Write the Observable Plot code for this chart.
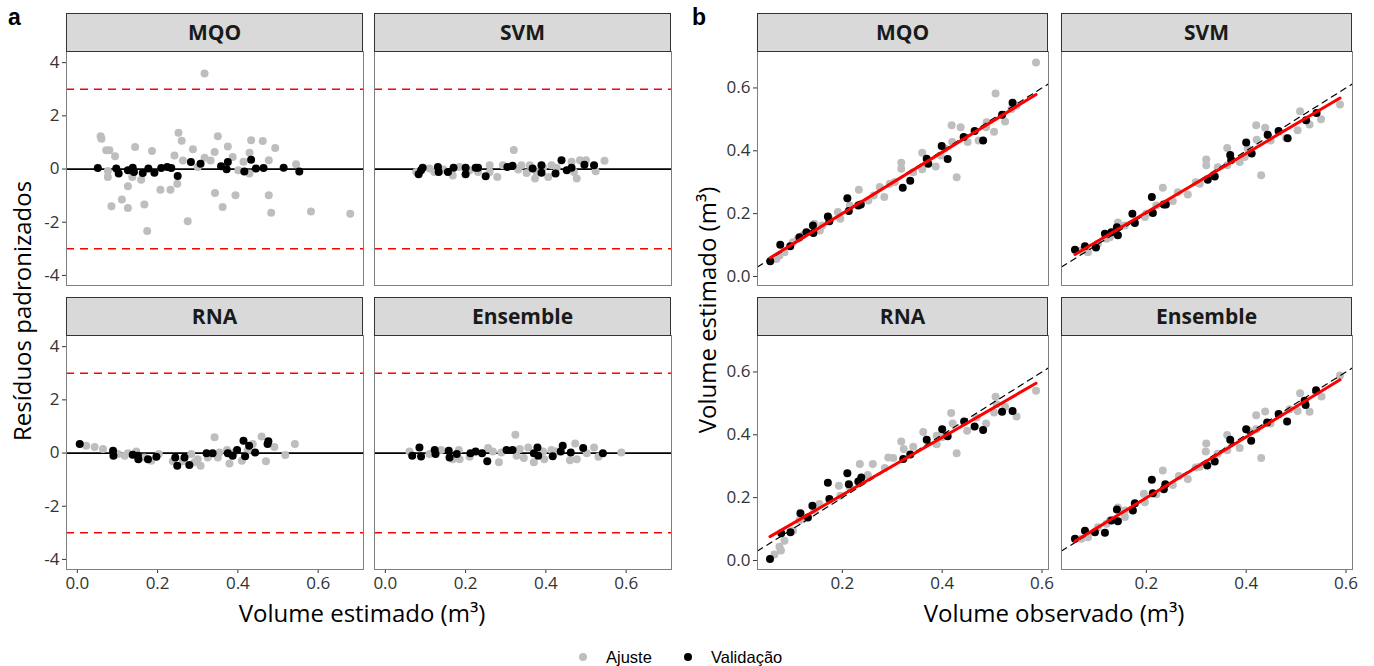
<!DOCTYPE html>
<html><head><meta charset="utf-8">
<script src="https://cdn.jsdelivr.net/npm/d3@7"></script>
<script src="https://cdn.jsdelivr.net/npm/@observablehq/plot@0.6"></script>
<style>
body{margin:0;background:#fff;}
#root{position:relative;width:1374px;height:666px;overflow:hidden;font-family:"Open Sans",sans-serif;color:#000;}
.abs{position:absolute;white-space:nowrap;}
.facet{position:absolute;}
</style></head><body><div id="root"></div>
<script>
// ---------- categories & ticks ----------
const models = ["MQO", "SVM", "RNA", "Ensemble"];
const groups = ["Ajuste", "Validação"];
const resTicks = [-4, -2, 0, 2, 4];
const volTicksA = [0, 0.2, 0.4, 0.6];
const obsTicksB = [0.2, 0.4, 0.6];
const estTicksB = [0, 0.2, 0.4, 0.6];
const refLimits = [-3, 3];
const zeroLine = [0];

// ---------- panel a: [volume estimado, resíduo padronizado] ----------
const resAjusteMQO = [[0.317,3.59],[0.058,1.23],[0.06,1.14],[0.072,0.71],[0.08,0.71],[0.094,0.48],[0.144,0.83],[0.186,0.68],[0.252,1.36],[0.26,1.06],[0.288,0.74],[0.35,1.23],[0.375,0.85],[0.342,0.64],[0.387,0.45],[0.433,1.08],[0.462,1.05],[0.493,0.79],[0.429,0.61],[0.477,0.33],[0.414,0.27],[0.545,0.18],[0.317,0.42],[0.332,0.32],[0.263,0.32],[0.242,0.51],[0.3,0.08],[0.076,-0.30],[0.126,-0.65],[0.137,-0.30],[0.159,-0.40],[0.085,-1.4],[0.111,-1.15],[0.126,-1.47],[0.167,-1.33],[0.174,-2.33],[0.207,-0.78],[0.232,-0.78],[0.249,-0.55],[0.275,-1.96],[0.343,-0.9],[0.362,-1.43],[0.394,-0.99],[0.477,-0.99],[0.483,-1.64],[0.582,-1.6],[0.68,-1.68],[0.401,-0.05],[0.429,-0.17],[0.076,-0.07]];
const resValidMQO = [[0.051,0.04],[0.097,0.02],[0.103,-0.17],[0.126,-0.05],[0.138,0.05],[0.141,-0.11],[0.163,-0.15],[0.177,0.02],[0.192,-0.14],[0.209,0.04],[0.224,0.08],[0.234,0.04],[0.25,-0.26],[0.283,0.26],[0.307,0.2],[0.358,0.1],[0.375,0.26],[0.372,-0.01],[0.416,-0.09],[0.433,0.35],[0.445,0.02],[0.464,0.04],[0.514,0.05],[0.553,-0.09]];
const resAjusteSVM = [[0.32,0.72],[0.077,-0.11],[0.11,0.02],[0.145,-0.02],[0.168,-0.24],[0.185,0.08],[0.231,-0.11],[0.26,0.14],[0.279,-0.3],[0.293,0.14],[0.331,-0.02],[0.352,-0.15],[0.36,0.14],[0.373,-0.36],[0.406,-0.3],[0.414,0.14],[0.464,0.27],[0.477,-0.36],[0.485,0.33],[0.5,0.33],[0.524,-0.08],[0.546,0.31],[0.339,0.14],[0.377,-0.11],[0.47,-0.11],[0.427,0.05],[0.26,-0.11],[0.21,-0.05],[0.393,0.05],[0.122,-0.11]];
const resValidSVM = [[0.083,-0.2],[0.089,-0.05],[0.093,0.05],[0.131,0.08],[0.133,-0.11],[0.156,-0.11],[0.17,0.05],[0.2,0.05],[0.2,-0.2],[0.225,0.05],[0.231,0.05],[0.25,-0.27],[0.304,0.08],[0.317,0.12],[0.367,0.02],[0.389,0.14],[0.389,-0.14],[0.424,-0.17],[0.439,0.33],[0.452,-0.05],[0.464,0.05],[0.496,0.16],[0.52,0.14]];
const resAjusteRNA = [[0.022,0.27],[0.043,0.23],[0.064,0.15],[0.101,-0.04],[0.118,-0.1],[0.147,0.06],[0.184,-0.29],[0.203,-0.04],[0.238,-0.31],[0.284,-0.04],[0.3,-0.23],[0.307,-0.48],[0.292,-0.35],[0.342,0.59],[0.35,-0.17],[0.373,0.11],[0.379,-0.39],[0.41,-0.29],[0.437,0.34],[0.459,0.62],[0.47,-0.31],[0.491,0.23],[0.518,-0.07],[0.542,0.34],[0.391,0.02],[0.325,-0.17],[0.263,-0.31],[0.167,-0.17],[0.126,-0.01],[0.354,0.02],[0.424,0.09]];
const resValidRNA = [[0.006,0.34],[0.089,0.09],[0.09,-0.1],[0.138,-0.06],[0.152,-0.23],[0.151,-0.1],[0.176,-0.23],[0.197,-0.14],[0.244,-0.17],[0.249,-0.48],[0.267,-0.17],[0.279,-0.45],[0.322,-0.01],[0.337,-0.01],[0.375,-0.01],[0.387,-0.1],[0.398,0.11],[0.414,0.46],[0.418,-0.12],[0.428,0.27],[0.443,0.02],[0.474,0.34],[0.476,0.44]];
const resAjusteEns = [[0.324,0.69],[0.06,0.06],[0.11,-0.04],[0.139,0.11],[0.168,-0.23],[0.183,0.11],[0.21,-0.14],[0.256,0.19],[0.268,0.06],[0.283,-0.35],[0.327,-0.1],[0.345,-0.19],[0.356,0.21],[0.37,-0.35],[0.396,-0.23],[0.414,0.11],[0.46,-0.27],[0.473,0.36],[0.477,-0.23],[0.52,0.21],[0.531,-0.14],[0.588,0.02],[0.427,0.06],[0.335,0.15],[0.289,0.02],[0.393,0.06],[0.502,-0.01],[0.185,-0.23]];
const resValidEns = [[0.067,-0.1],[0.085,0.21],[0.089,-0.13],[0.123,0.11],[0.125,-0.04],[0.158,0.09],[0.16,-0.17],[0.178,-0.04],[0.212,-0.01],[0.225,0.06],[0.241,-0.01],[0.254,-0.31],[0.302,0.11],[0.317,0.11],[0.37,-0.01],[0.379,0.21],[0.381,-0.1],[0.417,-0.12],[0.437,0.06],[0.442,0.27],[0.462,0.02],[0.493,0.19],[0.542,-0.01]];

// ---------- panel b: [volume observado, volume estimado] ----------
const obsAjusteMQO = [[0.588,0.681],[0.507,0.582],[0.419,0.481],[0.437,0.475],[0.42,0.428],[0.451,0.428],[0.473,0.433],[0.488,0.475],[0.504,0.461],[0.526,0.493],[0.549,0.544],[0.429,0.316],[0.387,0.35],[0.36,0.394],[0.36,0.341],[0.318,0.362],[0.318,0.343],[0.342,0.332],[0.305,0.301],[0.284,0.253],[0.263,0.258],[0.233,0.276],[0.252,0.242],[0.196,0.184],[0.191,0.205],[0.16,0.162],[0.155,0.146],[0.144,0.168],[0.111,0.12],[0.101,0.109],[0.084,0.077],[0.074,0.067],[0.068,0.056],[0.397,0.385],[0.405,0.407],[0.275,0.285],[0.295,0.295],[0.215,0.226],[0.174,0.184],[0.121,0.131],[0.489,0.491],[0.539,0.533]];
const obsValidMQO = [[0.0555,0.0488],[0.0756,0.101],[0.0956,0.0966],[0.114,0.125],[0.128,0.141],[0.141,0.162],[0.142,0.138],[0.171,0.191],[0.174,0.176],[0.21,0.249],[0.213,0.208],[0.232,0.226],[0.237,0.229],[0.321,0.282],[0.336,0.305],[0.369,0.375],[0.372,0.359],[0.399,0.415],[0.411,0.374],[0.443,0.444],[0.465,0.463],[0.482,0.433],[0.52,0.515],[0.541,0.553]];
const obsAjusteSVM = [[0.588,0.547],[0.508,0.526],[0.55,0.5],[0.527,0.484],[0.503,0.465],[0.48,0.441],[0.42,0.481],[0.438,0.473],[0.421,0.435],[0.449,0.433],[0.43,0.322],[0.387,0.364],[0.362,0.409],[0.362,0.354],[0.32,0.372],[0.32,0.354],[0.343,0.348],[0.307,0.295],[0.283,0.261],[0.263,0.268],[0.233,0.282],[0.253,0.24],[0.197,0.189],[0.2,0.2],[0.157,0.162],[0.143,0.172],[0.12,0.12],[0.103,0.104],[0.083,0.077],[0.07,0.083],[0.403,0.407],[0.397,0.38],[0.299,0.3],[0.22,0.226],[0.127,0.125]];
const obsValidSVM = [[0.057,0.085],[0.077,0.096],[0.099,0.092],[0.117,0.136],[0.13,0.141],[0.141,0.157],[0.143,0.131],[0.172,0.2],[0.177,0.17],[0.211,0.253],[0.213,0.202],[0.235,0.229],[0.239,0.229],[0.323,0.308],[0.337,0.318],[0.368,0.387],[0.37,0.371],[0.4,0.426],[0.411,0.391],[0.443,0.451],[0.465,0.463],[0.483,0.44],[0.52,0.497],[0.541,0.52]];
const obsAjusteRNA = [[0.588,0.54],[0.507,0.521],[0.549,0.458],[0.526,0.489],[0.504,0.471],[0.488,0.436],[0.418,0.469],[0.421,0.436],[0.45,0.413],[0.429,0.341],[0.389,0.37],[0.362,0.409],[0.342,0.362],[0.318,0.379],[0.323,0.355],[0.302,0.326],[0.285,0.294],[0.261,0.307],[0.235,0.307],[0.251,0.272],[0.193,0.238],[0.196,0.206],[0.154,0.18],[0.144,0.159],[0.114,0.127],[0.101,0.095],[0.084,0.063],[0.074,0.044],[0.064,0.019],[0.077,0.032],[0.389,0.397],[0.4,0.392],[0.292,0.328],[0.215,0.233],[0.121,0.132],[0.469,0.455],[0.509,0.497]];
const obsValidRNA = [[0.055,0.005],[0.0776,0.087],[0.096,0.09],[0.116,0.15],[0.131,0.137],[0.14,0.174],[0.171,0.247],[0.174,0.196],[0.21,0.278],[0.213,0.243],[0.232,0.251],[0.238,0.264],[0.322,0.323],[0.336,0.337],[0.369,0.384],[0.4,0.418],[0.411,0.395],[0.444,0.442],[0.465,0.426],[0.482,0.415],[0.52,0.473],[0.541,0.476]];
const obsAjusteEns = [[0.588,0.589],[0.508,0.532],[0.551,0.522],[0.527,0.473],[0.503,0.476],[0.487,0.481],[0.42,0.462],[0.438,0.474],[0.42,0.418],[0.449,0.436],[0.43,0.326],[0.387,0.358],[0.362,0.399],[0.362,0.351],[0.32,0.372],[0.319,0.347],[0.343,0.34],[0.307,0.298],[0.283,0.259],[0.265,0.269],[0.233,0.286],[0.253,0.24],[0.195,0.212],[0.197,0.185],[0.157,0.138],[0.143,0.169],[0.12,0.117],[0.103,0.106],[0.083,0.074],[0.07,0.069],[0.405,0.413],[0.299,0.296],[0.22,0.211],[0.127,0.127],[0.157,0.159]];
const obsValidEns = [[0.057,0.069],[0.077,0.095],[0.097,0.09],[0.117,0.088],[0.13,0.127],[0.141,0.162],[0.143,0.125],[0.173,0.159],[0.177,0.182],[0.211,0.257],[0.213,0.214],[0.235,0.227],[0.238,0.243],[0.322,0.302],[0.337,0.315],[0.368,0.384],[0.41,0.381],[0.4,0.418],[0.442,0.439],[0.465,0.466],[0.482,0.442],[0.519,0.495],[0.54,0.542],[0.517,0.508]];

// fitted regression lines (start and end points) and 1:1 reference
const fitMQO = [[0.0555,0.0595],[0.588,0.579]];
const fitSVM = [[0.057,0.070],[0.588,0.568]];
const fitRNA = [[0.055,0.076],[0.588,0.564]];
const fitEns = [[0.057,0.061],[0.588,0.575]];
const identityLine = [0.03, 0.613];

// ---------- layout ----------
const root = document.getElementById("root");
const ML = 45, MR = 8, MT = 40, MB = 35;
const FH = 234;
const rowTops = [51, 335];
const A = {lefts: [66, 374], width: 297, xDomain: [-0.027, 0.713], yDomain: [-4.38, 4.42]};
const B = {lefts: [757, 1061], width: 291, xDomain: [0.03, 0.613], yDomain: [-0.0287, 0.716]};

const FONT = "'Open Sans', sans-serif";

function stripMark(label, W) {
  return () => {
    const g = d3.create("svg:g");
    g.append("rect").attr("x", ML + 0.5).attr("y", MT - 38 + 0.5).attr("width", W - 1).attr("height", 38)
      .attr("fill", "#d9d9d9").attr("stroke", "#333").attr("stroke-width", 1);
    g.append("text").attr("x", ML + W / 2).attr("y", MT - 19).attr("text-anchor", "middle")
      .attr("dominant-baseline", "central").attr("font-weight", "bold").attr("font-size", 21)
      .attr("font-family", FONT).attr("fill", "#1a1a1a").text(label);
    return g.node();
  };
}

function place(svg, left, top) {
  const d = document.createElement("div");
  d.className = "facet";
  d.style.left = left + "px";
  d.style.top = top + "px";
  d.appendChild(svg);
  root.appendChild(d);
}

const dotG = {x: d => d[0], y: d => d[1], r: 4, fill: "#bebebe"};
const dotV = {x: d => d[0], y: d => d[1], r: 4, fill: "#000"};

const resAj = [resAjusteMQO, resAjusteSVM, resAjusteRNA, resAjusteEns];
const resVa = [resValidMQO, resValidSVM, resValidRNA, resValidEns];
const obsAj = [obsAjusteMQO, obsAjusteSVM, obsAjusteRNA, obsAjusteEns];
const obsVa = [obsValidMQO, obsValidSVM, obsValidRNA, obsValidEns];
const fits = [fitMQO, fitSVM, fitRNA, fitEns];

models.forEach((m, i) => {
  const col = i % 2, row = Math.floor(i / 2);
  const common = (P, ticksX, ticksY, yFmt) => ({
    width: ML + P.width + MR,
    height: MT + FH + MB,
    marginLeft: ML, marginRight: MR, marginTop: MT, marginBottom: MB,
    style: {background: "transparent", overflow: "visible", fontFamily: FONT, fontSize: "17px", color: "#333"},
    x: {domain: P.xDomain, ticks: ticksX, tickFormat: d => d.toFixed(1), tickSize: 4, tickPadding: 3,
        axis: row === 1 ? "bottom" : null, label: null},
    y: {domain: P.yDomain, ticks: ticksY, tickFormat: yFmt, tickSize: 4, tickPadding: 3,
        axis: col === 0 ? "left" : null, label: null}
  });

  // panel a
  const pa = Plot.plot({
    ...common(A, volTicksA, resTicks, d => String(d)),
    marks: [
      Plot.ruleY(refLimits, {stroke: "#ff0000", strokeWidth: 1.5, strokeDasharray: "8,6"}),
      Plot.ruleY(zeroLine, {stroke: "#000", strokeWidth: 1.8}),
      Plot.dot(resAj[i], dotG),
      Plot.dot(resVa[i], dotV),
      Plot.frame({stroke: "#7f7f7f"}),
      stripMark(m, A.width)
    ]
  });
  place(pa, A.lefts[col] - ML, rowTops[row] - MT);

  // panel b
  const pb = Plot.plot({
    ...common(B, obsTicksB, estTicksB, d => d.toFixed(1)),
    marks: [
      Plot.dot(obsAj[i], dotG),
      Plot.dot(obsVa[i], dotV),
      Plot.line(identityLine, {x: d => d, y: d => d, stroke: "#000", strokeWidth: 1.2, strokeDasharray: "6,5"}),
      Plot.line(fits[i], {x: d => d[0], y: d => d[1], stroke: "#ff0000", strokeWidth: 3}),
      Plot.frame({stroke: "#7f7f7f"}),
      stripMark(m, B.width)
    ]
  });
  place(pb, B.lefts[col] - ML, rowTops[row] - MT);
});

// ---------- titles, labels, legend ----------
function addText(txt, css) {
  const d = document.createElement("div");
  d.className = "abs";
  d.textContent = txt;
  Object.assign(d.style, css);
  root.appendChild(d);
  return d;
}
addText("a", {left: "8px", top: "4px", fontFamily: "'Liberation Sans', Arial, sans-serif", fontWeight: "bold", fontSize: "23px"});
addText("b", {left: "692px", top: "4px", fontFamily: "'Liberation Sans', Arial, sans-serif", fontWeight: "bold", fontSize: "23px"});
addText("Volume estimado (m³)", {left: "362px", top: "612px", transform: "translate(-50%,-50%)", fontSize: "24px", color: "#000"});
addText("Volume observado (m³)", {left: "1054px", top: "612px", transform: "translate(-50%,-50%)", fontSize: "24px", color: "#000"});
addText("Resíduos padronizados", {left: "21px", top: "311px", transform: "translate(-50%,-50%) rotate(-90deg)", fontSize: "24px", color: "#000"});
addText("Volume estimado (m³)", {left: "706px", top: "310px", transform: "translate(-50%,-50%) rotate(-90deg)", fontSize: "24px", color: "#000"});

// legend
const legendColors = ["#bebebe", "#000"];
const legendX = [583, 688];
groups.forEach((g, k) => {
  const dot = document.createElement("div");
  dot.className = "abs";
  Object.assign(dot.style, {left: (legendX[k] - 4) + "px", top: "653px", width: "8px", height: "8px", borderRadius: "50%", background: legendColors[k]});
  root.appendChild(dot);
  addText(g, {left: (legendX[k] + 23) + "px", top: "657px", transform: "translateY(-50%)", fontFamily: "'Liberation Sans', Arial, sans-serif", fontSize: "16.5px", color: "#000"});
});
</script></body></html>
